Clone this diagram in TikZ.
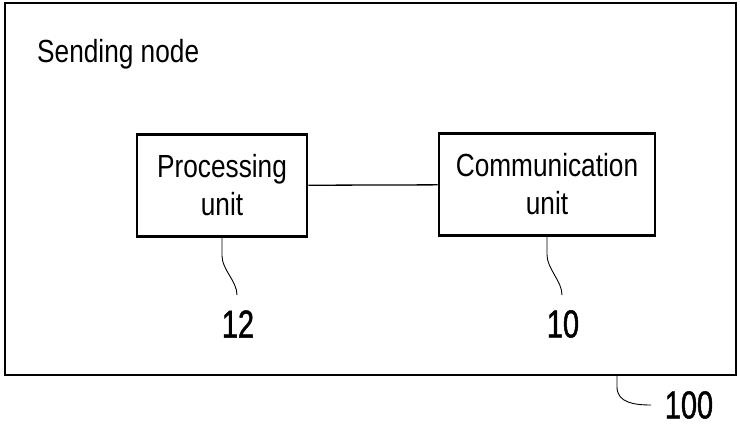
\documentclass[tikz,border=0pt]{standalone}
\usepackage{fontspec}
\setmainfont{Liberation Sans}[FakeStretch=0.82]
\newfontfamily\numfont{Liberation Sans}[FakeStretch=0.74, FakeBold=1.2]
\begin{document}
\begin{tikzpicture}
        [x=1pt, y=-1pt,
         unitbox/.style={rectangle, draw, line width=2.6pt, align=center, inner sep=0pt,
                         minimum height=102pt, font=\fontsize{32}{38}\selectfont},
         refnum/.style={font=\numfont\fontsize{39}{39}\selectfont, inner sep=0pt},
         leader/.style={line width=0.9pt}]
        \useasboundingbox (0,0) rectangle (740,428);
        \node (sendnode) [rectangle, draw, line width=2.6pt, minimum width=731pt, minimum height=372pt] at (370.5,189) {};
        \node (title) [anchor=base west, inner sep=0pt, font=\fontsize{32}{38}\selectfont] at (37,63) {Sending node};
        \node (proc) [unitbox, minimum width=170pt] at (222,185.5) {Processing\\unit};
        \node (comm) [unitbox, minimum width=216pt] at (547,184.5) {Communication\\unit};
        \draw [line width=1.3pt] (proc) -- (comm);
        \node (n12) [refnum] at (238,324) {12};
        \node (n10) [refnum] at (563,324) {10};
        \node (n100) [refnum] at (689,405) {100};
        \coordinate (e12) at (237,295);
        \coordinate (e10) at (562,295);
        \coordinate (s100) at (617,375);
        \coordinate (e100) at (651,405);
        \draw [leader] (proc.south) -- ++(0,18) .. controls ++(0,14) and ++(0,-14) .. (e12);
        \draw [leader] (comm.south) -- ++(0,18) .. controls ++(0,14) and ++(0,-14) .. (e10);
        \draw [leader] (s100) -- ++(0,12) .. controls ++(0,16) and ++(-16,0) .. (e100);
    \end{tikzpicture}
\end{document}
